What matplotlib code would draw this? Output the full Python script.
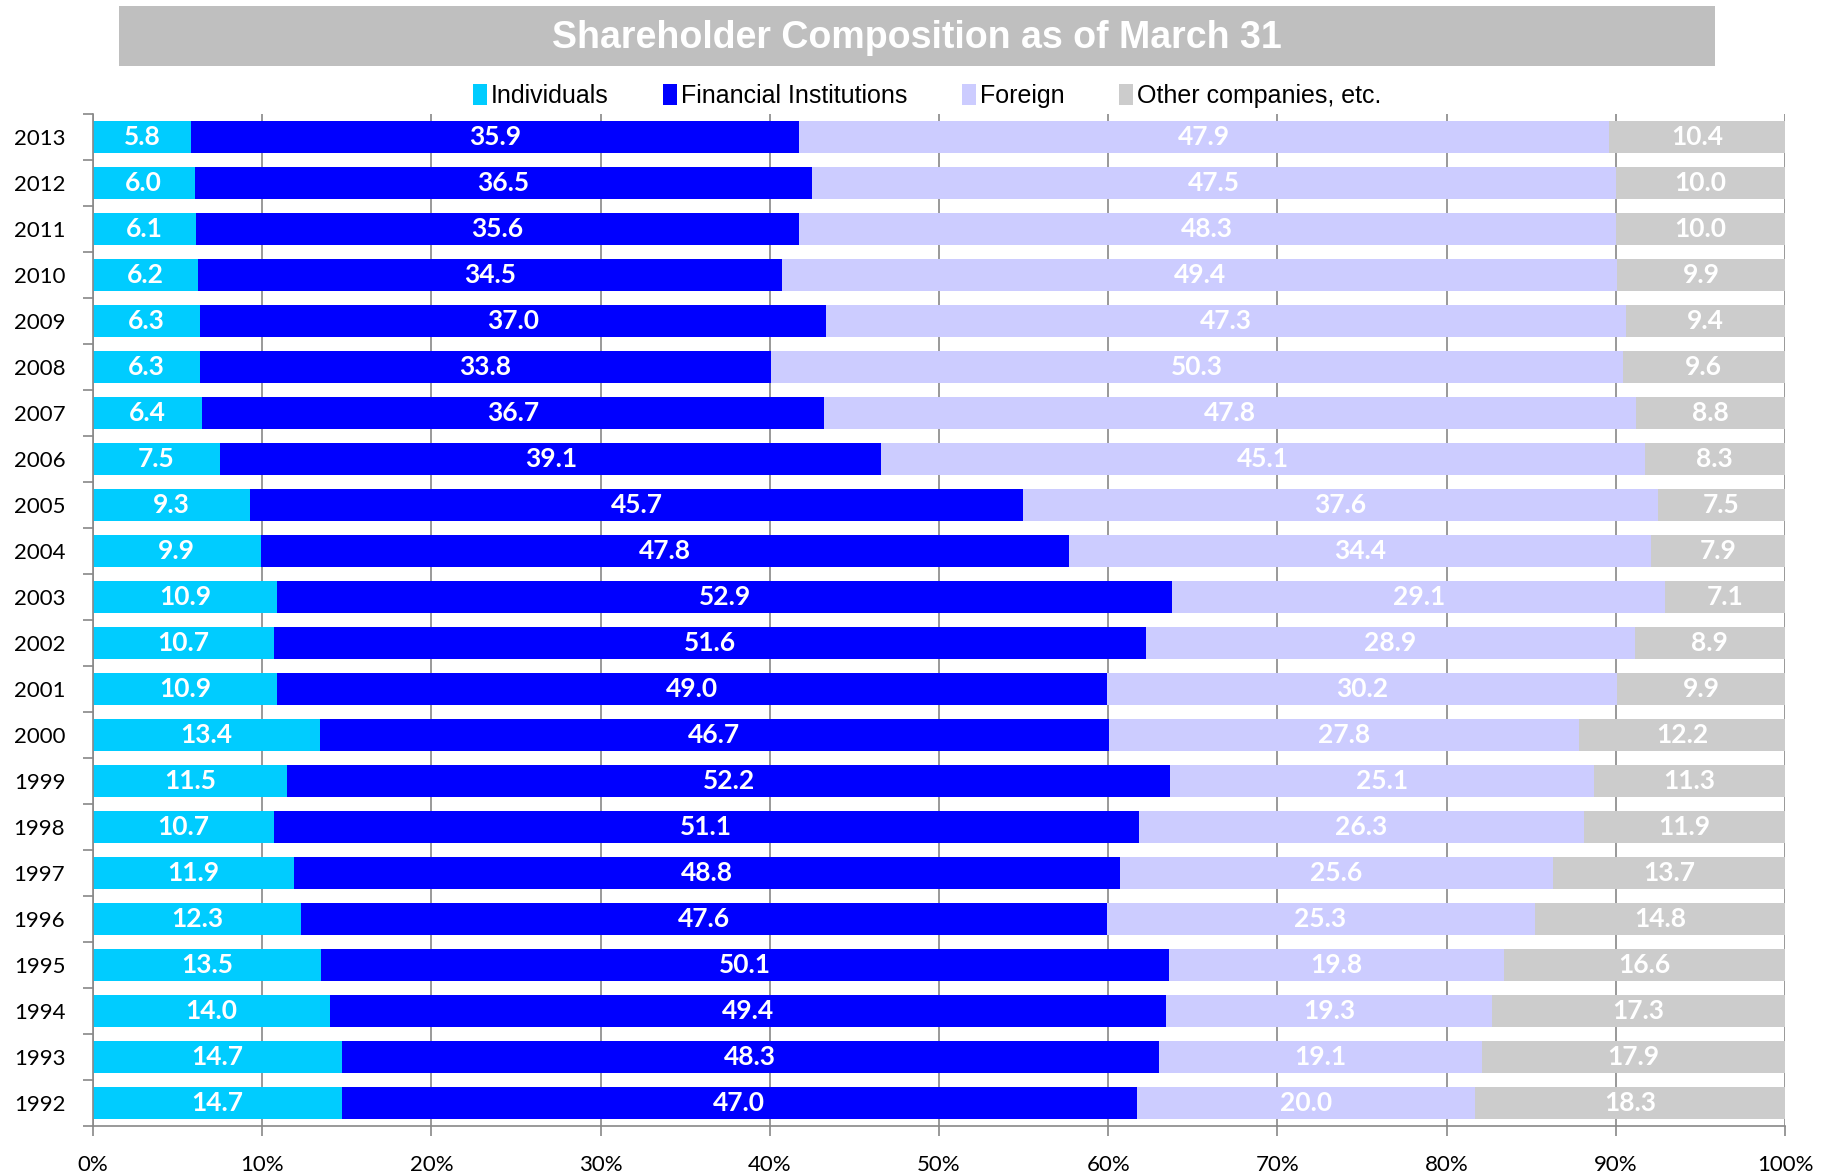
import matplotlib
matplotlib.use("Agg")
import matplotlib.pyplot as plt
from matplotlib.patches import Patch, Rectangle
import numpy as np

years = ["1992", "1993", "1994", "1995", "1996", "1997", "1998", "1999", "2000",
         "2001", "2002", "2003", "2004", "2005", "2006", "2007", "2008", "2009",
         "2010", "2011", "2012", "2013"]
individuals = [14.7, 14.7, 14.0, 13.5, 12.3, 11.9, 10.7, 11.5, 13.4, 10.9, 10.7,
               10.9, 9.9, 9.3, 7.5, 6.4, 6.3, 6.3, 6.2, 6.1, 6.0, 5.8]
financial = [47.0, 48.3, 49.4, 50.1, 47.6, 48.8, 51.1, 52.2, 46.7, 49.0, 51.6,
             52.9, 47.8, 45.7, 39.1, 36.7, 33.8, 37.0, 34.5, 35.6, 36.5, 35.9]
foreign = [20.0, 19.1, 19.3, 19.8, 25.3, 25.6, 26.3, 25.1, 27.8, 30.2, 28.9,
           29.1, 34.4, 37.6, 45.1, 47.8, 50.3, 47.3, 49.4, 48.3, 47.5, 47.9]
other = [18.3, 17.9, 17.3, 16.6, 14.8, 13.7, 11.9, 11.3, 12.2, 9.9, 8.9,
         7.1, 7.9, 7.5, 8.3, 8.8, 9.6, 9.4, 9.9, 10.0, 10.0, 10.4]
series_names = ["Individuals", "Financial Institutions", "Foreign", "Other companies, etc."]
x_ticks = [0, 10, 20, 30, 40, 50, 60, 70, 80, 90, 100]

colors = ["#00CCFF", "#0000FF", "#CCCCFF", "#CCCCCC"]

W, H = 1829, 1172
fig = plt.figure(figsize=(W / 100, H / 100), dpi=100)
ax = fig.add_axes([93 / W, 1 - 1126 / H, (1785 - 93) / W, (1126 - 114) / H])

data = np.array([individuals, financial, foreign, other])
totals = data.sum(axis=0)
shares = data / totals * 100  # 100% stacked
y = np.arange(len(years))
left = np.zeros(len(years))
label_font = dict(family=["Lato", "DejaVu Sans"], fontweight="bold", color="white", fontsize=19)
for vals, shr, col in zip(data, shares, colors):
    ax.barh(y, shr, left=left, height=0.69, color=col, zorder=2)
    for yi, (v, s, l) in enumerate(zip(vals, shr, left)):
        ax.text(l + s / 2, yi, f"{v:.1f}", ha="center", va="center", zorder=3, **label_font)
    left += shr

ax.set_xlim(0, 100)
ax.set_ylim(-0.5, len(years) - 0.5)
ax.set_xticks(x_ticks)
ax.set_xticklabels([f"{t}%" for t in x_ticks], fontfamily="Lato", fontsize=16)
ax.set_yticks(y)
ax.set_yticklabels(years, fontfamily="Lato", fontsize=16)
ax.set_yticks(np.arange(len(years) + 1) - 0.5, minor=True)
ax.tick_params(axis="y", which="major", length=0, pad=20)
ax.tick_params(axis="y", which="minor", length=7, width=1.2, color="#888888", direction="out")
ax.tick_params(axis="x", length=7, width=1.2, color="#888888", direction="out", pad=14)
ax.xaxis.grid(True, color="#888888", linewidth=1.2, zorder=0)
ax.set_axisbelow(True)
for side in ["top", "right"]:
    ax.spines[side].set_visible(False)
for side in ["left", "bottom"]:
    ax.spines[side].set_color("#888888")
    ax.spines[side].set_linewidth(1.2)

# Title banner
fig.patches.append(Rectangle((119 / W, 1 - 66 / H), (1715 - 119) / W, 60 / H,
                             transform=fig.transFigure, facecolor="#BFBFBF",
                             edgecolor="none", zorder=0))
fig.text(917 / W, 1 - 38 / H, "Shareholder Composition as of March 31",
         ha="center", va="center", color="white", fontsize=27, fontweight="bold",
         family=["Liberation Sans", "DejaVu Sans"])

handles = [Patch(facecolor=c, edgecolor="none") for c in colors]
fig.legend(handles, series_names, loc="center", bbox_to_anchor=(927 / W, 1 - 96 / H),
           ncol=4, frameon=False, handlelength=0.55, handleheight=0.9, handletextpad=0.15,
           columnspacing=2.2, prop=dict(family=["Liberation Sans"], size=18))

fig.savefig("out.png", dpi=100)
